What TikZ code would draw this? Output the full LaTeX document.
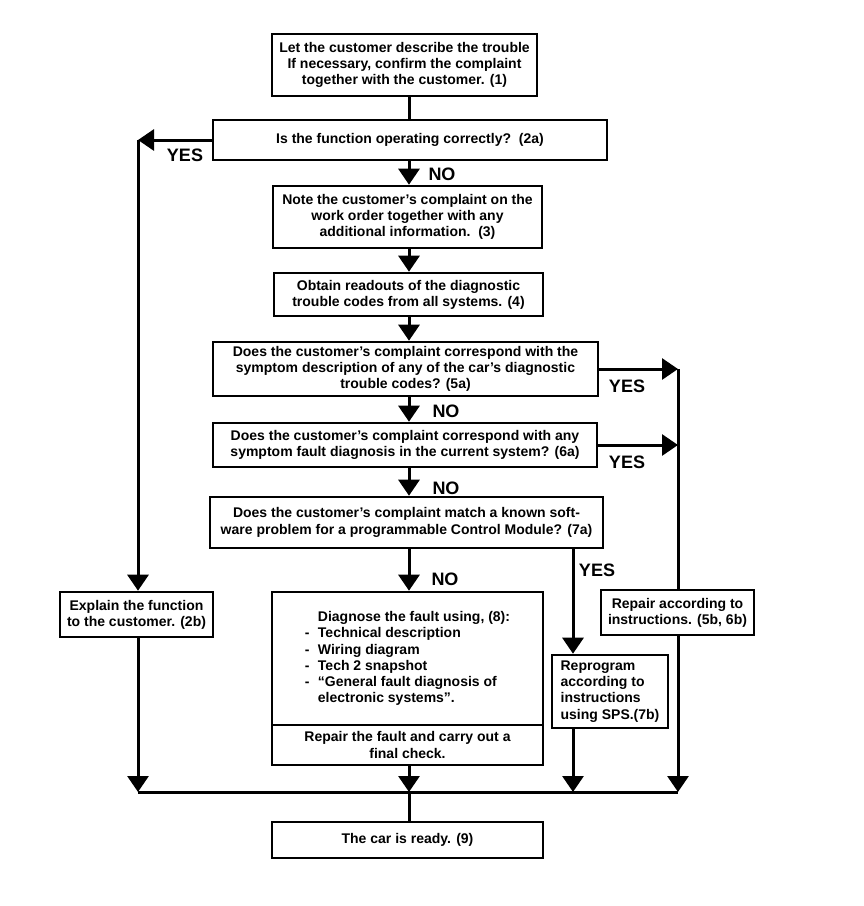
\documentclass[tikz,border=0pt]{standalone}
\usepackage{fontspec}
\setmainfont{Liberation Sans}
\usetikzlibrary{arrows.meta}
\begin{document}
\begin{tikzpicture}[x=1pt,y=-1pt,
  box/.style={draw, line width=2.6pt, inner sep=0pt, align=center,
    font=\bfseries\fontsize{14}{16.2}\selectfont},
  ln/.style={line width=3pt},
  arr/.style={line width=3pt, -{Triangle[width=21pt,length=16pt]}},
  lab/.style={font=\bfseries\fontsize{18}{18}\selectfont, inner sep=0pt}]
\fill[white] (0,0) rectangle (864,906);
\useasboundingbox (0,0) rectangle (864,906);

% columns
\coordinate (col) at (409,0);
\coordinate (cl) at (138,140);
\coordinate (cr) at (678,0);
\coordinate (c7) at (573,0);
\coordinate (jl) at (138,792);
\coordinate (jr) at (678,792);

% boxes
\node[box, minimum width=265pt, minimum height=62pt] (b1) at (404.5,65)
  {Let the customer describe the trouble\\If necessary, confirm the complaint\\together with the customer. (1)};
\node[box, minimum width=394pt, minimum height=40pt] (b2a) at (410,140)
  {Is the function operating correctly?\ \ (2a)};
\node[box, minimum width=269pt, minimum height=62pt] (b3) at (407.5,217)
  {Note the customer's complaint on the\\work order together with any\\additional information.\ \ (3)};
\node[box, minimum width=269pt, minimum height=43pt] (b4) at (408.5,294.5)
  {Obtain readouts of the diagnostic\\trouble codes from all systems. (4)};
\node[box, minimum width=385pt, minimum height=54pt] (b5a) at (405.5,369)
  {Does the customer's complaint correspond with the\\symptom description of any of the car's diagnostic\\trouble codes? (5a)};
\node[box, minimum width=384pt, minimum height=44pt] (b6a) at (405,445)
  {Does the customer's complaint correspond with any\\symptom fault diagnosis in the current system? (6a)};
\node[box, minimum width=393pt, minimum height=51pt] (b7a) at (406.5,522.5)
  {Does the customer's complaint match a known soft-\\ware problem for a programmable Control Module? (7a)};
\node[box, minimum width=153pt, minimum height=45pt] (b2b) at (136.5,614.5)
  {Explain the function\\to the customer. (2b)};
\node[box, minimum width=271pt, minimum height=133pt, align=left] (b8) at (407.5,658.5)
  {\hspace*{13pt}Diagnose the fault using, (8):\\
   \makebox[13pt][l]{-}Technical description\\
   \makebox[13pt][l]{-}Wiring diagram\\
   \makebox[13pt][l]{-}Tech 2 snapshot\\
   \makebox[13pt][l]{-}“General fault diagnosis of\\
   \hspace*{13pt}electronic systems”.};
\node[box, minimum width=271pt, minimum height=40pt] (b8r) at (407.5,745)
  {Repair the fault and carry out a\\final check.};
\node[box, minimum width=116pt, minimum height=73pt, align=left] (b7b) at (610,691.5)
  {Reprogram\\according to\\instructions\\using SPS.(7b)};
\node[box, minimum width=153pt, minimum height=45pt] (b56) at (677.5,612.5)
  {Repair according to\\instructions. (5b, 6b)};
\node[box, minimum width=271pt, minimum height=36pt] (b9) at (407.5,840)
  {The car is ready. (9)};

% main column
\draw[ln]  (b1.south -| col) -- (b2a.north -| col);
\draw[arr] (b2a.south -| col) -- (b3.north -| col);
\draw[arr] (b3.south -| col) -- (b4.north -| col);
\draw[arr] (b4.south -| col) -- (b5a.north -| col);
\draw[arr] (b5a.south -| col) -- (b6a.north -| col);
\draw[arr] (b6a.south -| col) -- (b7a.north -| col);
\draw[arr] (b7a.south -| col) -- (b8.north -| col);

% left branch
\draw[arr] (b2a.west) -- (cl);
\draw[arr] (cl) -- (b2b.north -| cl);

% right branch
\draw[arr] (b5a.east) -- (b5a.east -| cr);
\draw[arr] (b6a.east) -- (b6a.east -| cr);
\draw[ln]  (b5a.east -| cr) -- (b56.north -| cr);

% 7a yes
\draw[arr] (b7a.south -| c7) -- (b7b.north -| c7);

% collector
\draw[ln] (jl) -- (jr);
\draw[arr] (b2b.south -| jl) -- (jl);
\draw[arr] (b8r.south -| col) -- (jl -| col);
\draw[arr] (b7b.south -| c7) -- (jl -| c7);
\draw[arr] (b56.south -| cr) -- (jr);
\draw[ln]  (jl -| col) -- (b9.north -| col);

% labels
\node[lab] (y1) at (185,155) {YES};
\node[lab] (n1) at (442,174) {NO};
\node[lab] (y5) at (627,386) {YES};
\node[lab] (n5) at (446,411) {NO};
\node[lab] (y6) at (627,462) {YES};
\node[lab] (n6) at (446,488) {NO};
\node[lab] (n7) at (445,579) {NO};
\node[lab] (y7) at (597,570) {YES};
\end{tikzpicture}
\end{document}
